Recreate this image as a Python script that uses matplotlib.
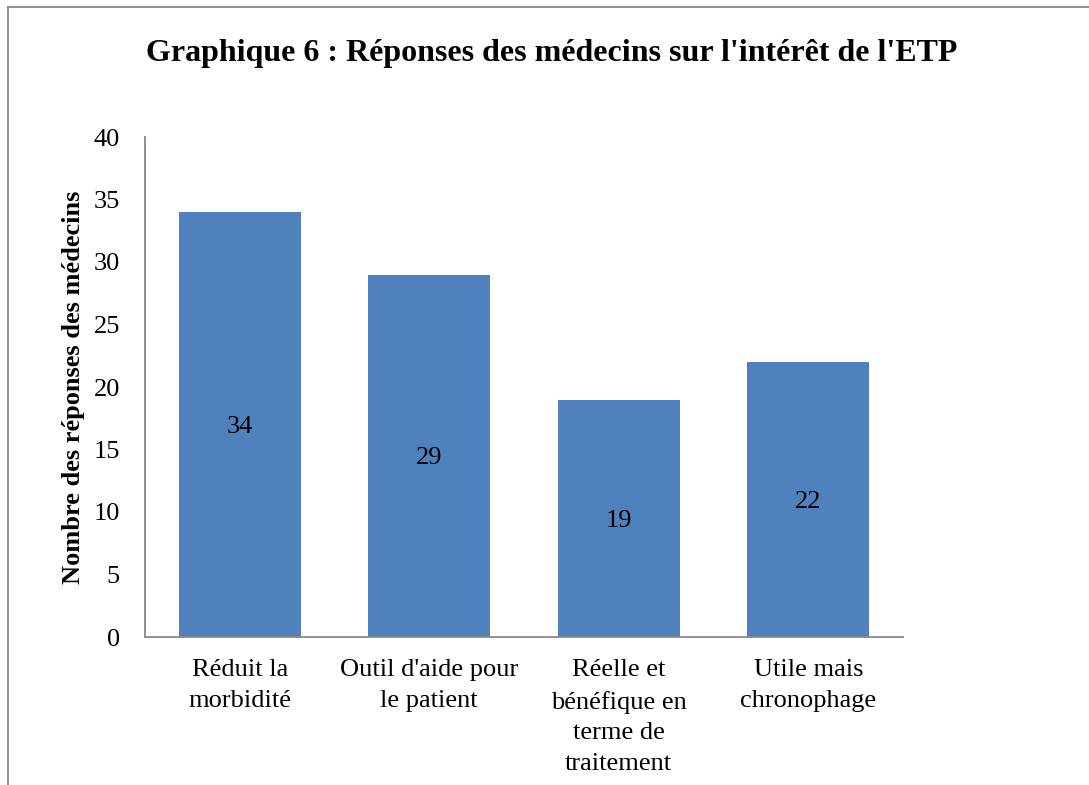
import matplotlib.pyplot as plt
from matplotlib.lines import Line2D

categories = ["Réduit la\nmorbidité", "Outil d'aide pour\nle patient",
              "Réelle et\nbénéfique en\nterme de\ntraitement", "Utile mais\nchronophage"]
values = [34, 29, 19, 22]
yticks = [0, 5, 10, 15, 20, 25, 30, 35, 40]

plt.rcParams['font.family'] = ['Liberation Serif', 'DejaVu Serif']

fig = plt.figure(figsize=(10.89, 7.85), dpi=100)
ax = fig.add_axes([145 / 1089, 1 - 637 / 785, 758 / 1089, 500 / 785])

x = range(len(values))
bars = ax.bar(x, values, width=0.645, color='#4F81BD')
for i, v in zip(x, values):
    ax.text(i, v / 2, str(v), ha='center', va='center_baseline', fontsize=19)

ax.set_xlim(-0.5, len(values) - 0.5)
ax.set_ylim(0, 40)
ax.set_yticks(yticks)
ax.set_xticks(list(x))
ax.set_xticklabels(categories, fontsize=19, linespacing=1.52)
ax.tick_params(axis='both', length=0, labelsize=19)
ax.tick_params(axis='y', pad=18)
ax.tick_params(axis='x', pad=16)
for s in ['top', 'right']:
    ax.spines[s].set_visible(False)
for s in ['left', 'bottom']:
    ax.spines[s].set_color('#888888')
    ax.spines[s].set_linewidth(1.3)

ax.set_ylabel('Nombre des réponses des médecins', fontsize=19, fontweight='bold', labelpad=6)
fig.text(552 / 1089, 1 - 53 / 785, "Graphique 6 : Réponses des médecins sur l'intérêt de l'ETP",
         ha='center', va='center', fontsize=23, fontweight='bold')

# chart frame (left and top edges visible)
fig.add_artist(Line2D([8 / 1089, 8 / 1089], [0, 1 - 7 / 785], transform=fig.transFigure,
                      color='#888888', linewidth=1.3))
fig.add_artist(Line2D([8 / 1089, 1], [1 - 7 / 785, 1 - 7 / 785], transform=fig.transFigure,
                      color='#888888', linewidth=1.3))

fig.savefig('out.png', dpi=100)
